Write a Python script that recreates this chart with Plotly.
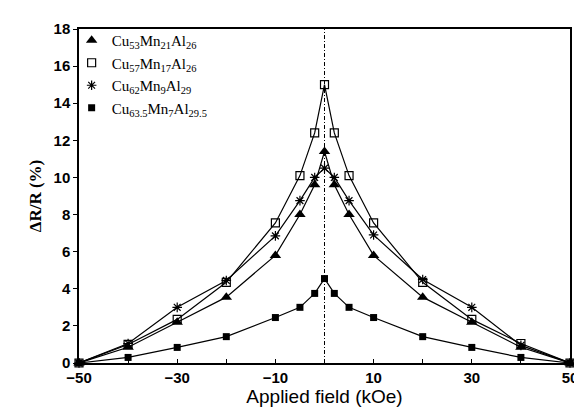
import plotly.graph_objects as go

field = [-50, -40, -30, -20, -10, -5, -2, 0, 2, 5, 10, 20, 30, 40, 50]

s1_name = "Cu<sub>53</sub>Mn<sub>21</sub>Al<sub>26</sub>"
s1 = [0, 0.85, 2.2, 3.55, 5.8, 8.0, 9.6, 11.4, 9.6, 8.0, 5.8, 3.55, 2.2, 0.85, 0]

s2_name = "Cu<sub>57</sub>Mn<sub>17</sub>Al<sub>26</sub>"
s2 = [0, 1.0, 2.35, 4.35, 7.55, 10.1, 12.4, 15.0, 12.4, 10.1, 7.55, 4.35, 2.35, 1.05, 0]

s3_name = "Cu<sub>62</sub>Mn<sub>9</sub>Al<sub>29</sub>"
s3 = [0, 1.05, 3.0, 4.45, 6.85, 8.75, 10.0, 10.5, 10.0, 8.75, 6.9, 4.5, 3.0, 0.95, 0]

s4_name = "Cu<sub>63.5</sub>Mn<sub>7</sub>Al<sub>29.5</sub>"
s4 = [0, 0.3, 0.84, 1.42, 2.45, 3.0, 3.75, 4.55, 3.75, 3.0, 2.45, 1.42, 0.84, 0.3, 0]

y_tickvals = [0, 2, 4, 6, 8, 10, 12, 14, 16, 18]

series = [
    (s1_name, s1, dict(symbol="triangle-up", size=10, color="black")),
    (s2_name, s2, dict(symbol="square-open", size=8, color="black", line=dict(width=1.2, color="black"))),
    (s3_name, s3, dict(symbol="asterisk-open", size=8, color="black", line=dict(width=1.2, color="black"))),
    (s4_name, s4, dict(symbol="square", size=7, color="black")),
]

fig = go.Figure()
for name, ys, mk in series:
    fig.add_trace(go.Scatter(x=field, y=ys, mode="lines+markers", line=dict(color="black", width=1.2),
                             marker=mk, showlegend=False, cliponaxis=False))
for name, ys, mk in series:
    fig.add_trace(go.Scatter(x=[None], y=[None], mode="markers", marker=mk, name=name, showlegend=True))

fig.add_shape(type="line", xref="x", yref="paper", x0=0, x1=0, y0=0, y1=1,
              line=dict(color="black", width=1, dash="4px,2px,1px,2px"), layer="below")

fig.update_layout(
    width=582, height=412,
    margin=dict(l=71, r=16, t=12, b=57),
    paper_bgcolor="white", plot_bgcolor="white",
    font=dict(family="Liberation Sans, Arial", color="black"),
    showlegend=True,
    legend=dict(x=-0.015, y=1.015, xanchor="left", yanchor="top",
                font=dict(family="Liberation Serif, Times New Roman", size=15, color="black"),
                bgcolor="rgba(0,0,0,0)", tracegroupgap=0, itemwidth=30),
    xaxis=dict(range=[-50, 50], tick0=-50, dtick=20,
               ticks="inside", ticklen=4, tickcolor="black", showline=True, linecolor="black",
               minor=dict(dtick=10, ticks="inside", ticklen=4, tickcolor="black", showgrid=False),
               linewidth=1.5, mirror=True, showgrid=False, zeroline=False,
               tickfont=dict(size=15, weight="bold"),
               title=dict(text="Applied field (kOe)", font=dict(size=19), standoff=3)),
    yaxis=dict(range=[0, 18], tickvals=y_tickvals,
               ticks="outside", ticklen=4, tickcolor="black", showline=True, linecolor="black",
               linewidth=1.5, mirror=True, showgrid=False, zeroline=False,
               tickfont=dict(size=15, weight="bold"),
               title=dict(text="ΔR/R (%)", font=dict(size=17, family="Liberation Serif, Times New Roman", weight="bold"), standoff=8)),
)

fig.write_html("out.html")
